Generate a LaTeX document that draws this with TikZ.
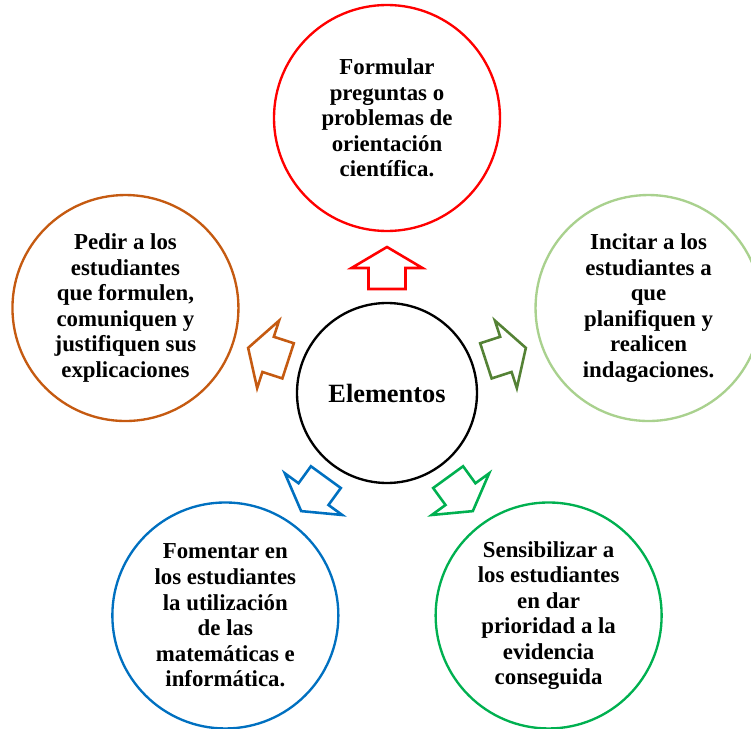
\documentclass[tikz,border=0pt]{standalone}
\usepackage{fontspec}
\setmainfont{Liberation Serif}
\definecolor{rojo}{HTML}{FF0000}
\definecolor{verdeclaro}{HTML}{A9D18E}
\definecolor{oliva}{HTML}{548235}
\definecolor{naranja}{HTML}{C55A11}
\definecolor{azul}{HTML}{0070C0}
\definecolor{verde}{HTML}{00B050}
\tikzset{
  idea/.style={circle, draw, line width=2pt, minimum size=6.78cm, inner sep=0pt,
    align=center, font=\bfseries\fontsize{19.5}{21.8}\selectfont},
  flecha/.style={line width=2.2pt, line join=miter}
}
\begin{document}
\begin{tikzpicture}
\useasboundingbox (-11.61,-10.08) rectangle (10.92,11.79);
\clip (-11.61,-10.08) rectangle (10.92,11.79);
% centro
\node[circle, draw, line width=2pt, minimum size=5.4cm, font=\bfseries\fontsize{22.5}{26}\selectfont] (elementos) at (0,0) {Elementos};
% ideas
\node[idea, draw=rojo] (formular) at (90:8.25) {Formular\\preguntas o\\problemas de\\orientación\\científica.};
\node[idea, draw=verdeclaro] (incitar) at (18:8.25) {Incitar a los\\estudiantes a\\que\\planifiquen y\\realicen\\indagaciones.};
\node[idea, draw=naranja] (pedir) at (162:8.25) {Pedir a los\\estudiantes\\que formulen,\\comuniquen y\\justifiquen sus\\explicaciones};
\node[idea, draw=azul] (fomentar) at (234:8.25) {Fomentar en\\los estudiantes\\la utilización\\de las\\matemáticas e\\informática.};
\node[idea, draw=verde] (sensibilizar) at (306:8.25) {Sensibilizar a\\los estudiantes\\en dar\\prioridad a la\\evidencia\\conseguida};
% flechas
\foreach \ang/\col in {90/rojo, 18/oliva, 162/naranja, 234/azul, 306/verde}
  \draw[flecha, draw=\col, rotate=\ang-90] (-0.555,3.12) -- (0.555,3.12) -- (0.555,3.75) -- (1.065,3.75)
    -- (0,4.38) -- (-1.065,3.75) -- (-0.555,3.75) -- cycle;
\end{tikzpicture}
\end{document}
